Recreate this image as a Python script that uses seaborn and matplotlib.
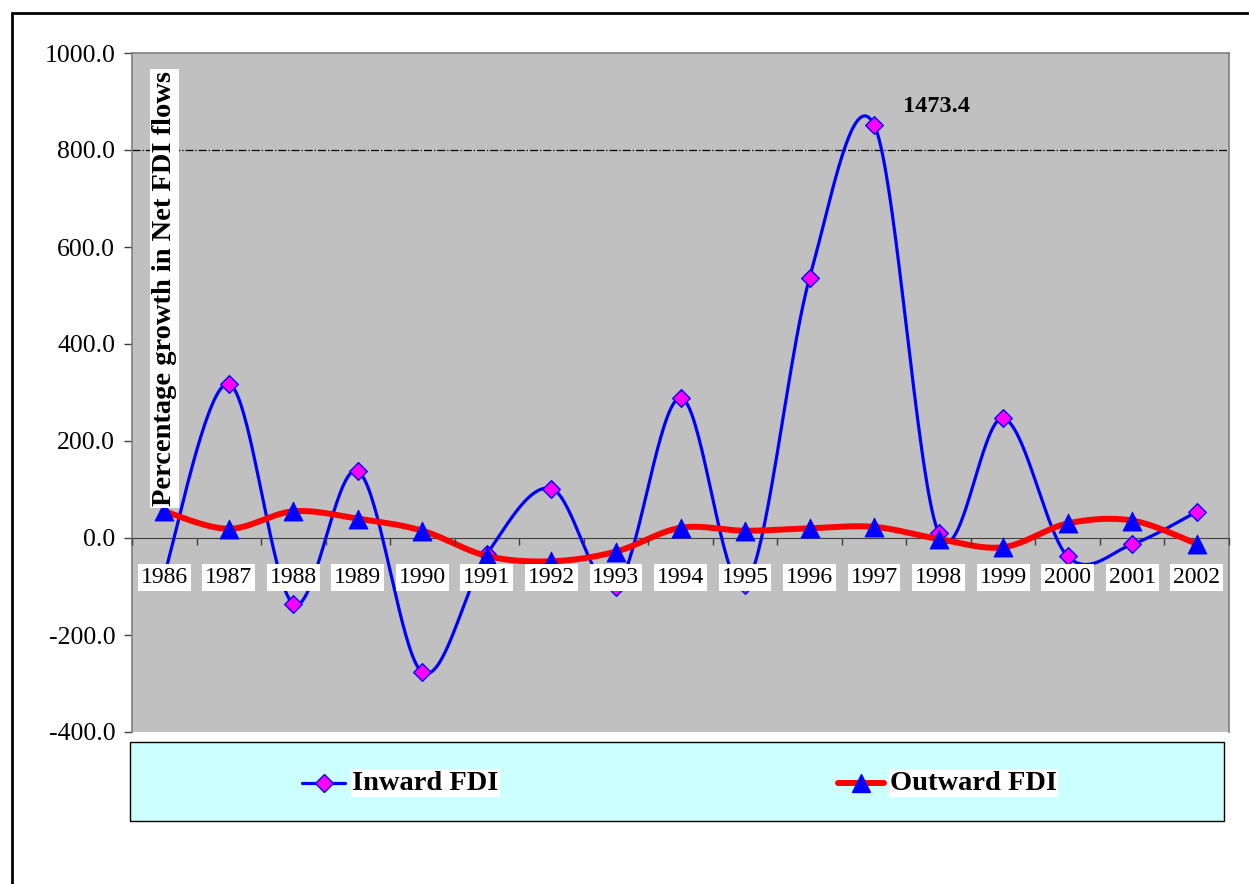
import numpy as np
import pandas as pd
import seaborn as sns
import matplotlib.pyplot as plt
from matplotlib.patches import Rectangle
from matplotlib.lines import Line2D

# Data
years = ["1986", "1987", "1988", "1989", "1990", "1991", "1992", "1993", "1994",
         "1995", "1996", "1997", "1998", "1999", "2000", "2001", "2002"]
inward_fdi = [-75, 318, -136, 138, -277, -33, 102, -100, 289, -97, 536, 852, 10, 247, -38, -13, 54]
outward_fdi = [55, 19, 55, 40, 15, -37, -48, -28, 21, 15, 20, 23, -2, -19, 30, 36, -12]
peak_label = "1473.4"   # true 1997 inward value, point is capped on the chart
y_ticks = [-400, -200, 0, 200, 400, 600, 800, 1000]


def smooth(vals, n=40):
    # Excel-like smoothed line (Catmull-Rom bezier)
    p = np.column_stack([np.arange(len(vals)), np.asarray(vals, float)])
    ext = np.vstack([p[0], p, p[-1]])
    t = np.linspace(0, 1, n)[:, None]
    segs = []
    for i in range(len(p) - 1):
        p0, p1, p2, p3 = ext[i], ext[i + 1], ext[i + 2], ext[i + 3]
        c1 = p1 + (p2 - p0) / 6
        c2 = p2 - (p3 - p1) / 6
        seg = (1 - t) ** 3 * p1 + 3 * (1 - t) ** 2 * t * c1 + 3 * (1 - t) * t ** 2 * c2 + t ** 3 * p2
        segs.append(seg if i == 0 else seg[1:])
    s = np.vstack(segs)
    return pd.DataFrame({"x": s[:, 0], "y": s[:, 1]})


sns.set_style("white")
plt.rcParams["font.family"] = ["Liberation Serif", "DejaVu Serif"]
plt.rcParams["text.color"] = "black"
plt.rcParams["xtick.color"] = "black"
plt.rcParams["ytick.color"] = "black"

W, H = 1249, 884
fig = plt.figure(figsize=(W / 100, H / 100), dpi=100)
ax = fig.add_axes([132 / W, 1 - 732 / H, (1229 - 132) / W, (732 - 53) / H])
ax.set_facecolor("#C0C0C0")

pts = pd.DataFrame({"x": np.arange(len(years)), "inward": inward_fdi, "outward": outward_fdi})

# Inward series
sns.lineplot(data=smooth(inward_fdi), x="x", y="y", sort=False, estimator=None,
             color="#0000FF", lw=2.3, ax=ax, zorder=3)
sns.scatterplot(data=pts, x="x", y="inward", marker="D", s=80, color="#FF00FF",
                edgecolor="#0000FF", linewidth=1.0, ax=ax, zorder=4)
# Outward series
sns.lineplot(data=smooth(outward_fdi), x="x", y="y", sort=False, estimator=None,
             color="#FF0000", lw=4.3, ax=ax, zorder=5)
sns.scatterplot(data=pts, x="x", y="outward", marker="^", s=190, color="#0000FF",
                edgecolor="#0000FF", linewidth=0.5, ax=ax, zorder=6)

ax.axhline(800, color="black", lw=0.9, ls="-.", zorder=2)

ax.set_xlim(-0.5, len(years) - 0.5)
ax.set_ylim(-400, 1000)
ax.set_yticks(y_ticks)
ax.set_yticklabels([f"{v:.1f}" for v in y_ticks], fontsize=18.5)
ax.tick_params(axis="y", direction="out", length=6, width=1, color="#404040", left=True, pad=6)

# category axis sits on the zero line
ax.spines["bottom"].set_position(("data", 0))
ax.spines["bottom"].set_color("#404040")
ax.set_xticks(np.arange(len(years)))
ax.set_xticklabels(years, fontsize=17)
ax.set_xticks(np.arange(len(years) + 1) - 0.5, minor=True)
ax.tick_params(axis="x", which="major", length=0, pad=21)
ax.tick_params(axis="x", which="minor", direction="out", length=5, width=1,
               color="#404040", bottom=True)
for lbl in ax.get_xticklabels():
    lbl.set_bbox(dict(facecolor="white", edgecolor="none", pad=2))
ax.xaxis.set_zorder(10)
for side in ["left", "top", "right"]:
    ax.spines[side].set_color("#808080")
    ax.spines[side].set_linewidth(1.2)
ax.set_xlabel("")
ax.set_ylabel("")

ax.text(0.030, 0.974, "Percentage growth in Net FDI flows", transform=ax.transAxes,
        rotation=90, ha="center", va="top", fontsize=20.5, fontweight="bold",
        bbox=dict(facecolor="white", edgecolor="none", pad=1.5), zorder=11)
ax.text(years.index("1997") + 0.45, 889, peak_label, fontsize=17.5, fontweight="bold",
        ha="left", va="center", zorder=11)

# outer frame of the chart
fig.patches.append(Rectangle((12 / W, -0.1), 1.2, 1.1 - 13 / H, transform=fig.transFigure,
                             fill=False, edgecolor="black", lw=2))

# legend box
fig.patches.append(Rectangle((130 / W, 1 - 821 / H), (1224 - 130) / W, 79 / H,
                             transform=fig.transFigure, facecolor="#CCFFFF",
                             edgecolor="black", lw=1))
ly = 1 - 783 / H
fig.add_artist(Line2D([302 / W, 345 / W], [ly, ly], color="#0000FF", lw=2.3))
fig.add_artist(Line2D([323.5 / W], [ly], marker="D", ms=9, color="#FF00FF",
                      markeredgecolor="#0000FF", markeredgewidth=1))
fig.text(352 / W, ly, "Inward FDI", fontsize=20.5, fontweight="bold", ha="left", va="center",
         bbox=dict(facecolor="white", edgecolor="none", pad=1))
fig.add_artist(Line2D([838 / W, 884 / W], [ly, ly], color="#FF0000", lw=4.3))
fig.add_artist(Line2D([861 / W], [ly], marker="^", ms=13.5, color="#0000FF",
                      markeredgecolor="#0000FF"))
fig.text(890 / W, ly, "Outward FDI", fontsize=20.5, fontweight="bold", ha="left", va="center",
         bbox=dict(facecolor="white", edgecolor="none", pad=1))

fig.savefig("out.png", dpi=100)
